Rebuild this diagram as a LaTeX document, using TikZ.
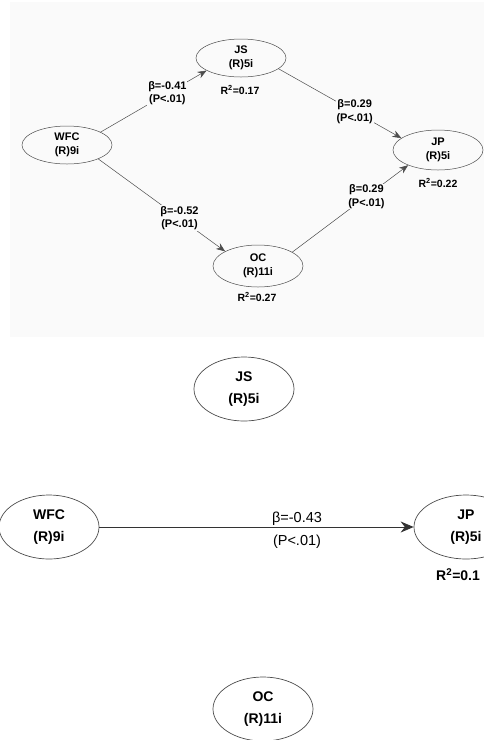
\documentclass[tikz,border=0pt]{standalone}
\usepackage{fontspec}
\setmainfont{Liberation Sans}
\usetikzlibrary{arrows.meta,shapes.geometric}

\begin{document}
\begin{tikzpicture}[
  x=1pt, y=-1pt,
  lv/.style={draw=black!70, ellipse, align=center, inner sep=0pt,
    minimum width=90pt, minimum height=38pt, line width=0.5pt,
    font=\bfseries\fontsize{11}{14.5}\selectfont},
  lvbig/.style={draw=black!70, ellipse, align=center, inner sep=0pt,
    minimum width=100pt, minimum height=64pt, line width=0.7pt,
    font=\bfseries\fontsize{14}{22}\selectfont},
  coef/.style={align=center, fill=black!2, inner sep=1pt,
    font=\bfseries\fontsize{11}{13.5}\selectfont},
  coefbig/.style={inner sep=0pt, font=\fontsize{14.5}{16}\selectfont},
  rsq/.style={inner sep=0pt, font=\bfseries\fontsize{10.5}{12}\selectfont},
  rsqbig/.style={inner sep=0pt, font=\bfseries\fontsize{14}{16}\selectfont},
  arrow/.style={-{Stealth[length=9pt, width=7pt]}, draw=black!70, line width=0.5pt},
  arrowbig/.style={-{Stealth[length=13pt, width=11pt]}, draw=black!80, line width=0.8pt}
]
\clip (0,0) rectangle (484,740);
\fill[black!2] (10,2) rectangle (484,337);

% mediation model
\node[lv] (wfc) at (67,145) {WFC\\(R)9i};
\node[lv] (js) at (241,58) {JS\\(R)5i};
\node[lv, minimum height=40pt] (jp) at (438,150) {JP\\(R)5i};
\node[lv, minimum height=42pt] (oc) at (258,266) {OC\\(R)11i};

\node[rsq] (rjs) at (240,90) {R\textsuperscript{2}=0.17};
\node[rsq] (rjp) at (438,183) {R\textsuperscript{2}=0.22};
\node[rsq] (roc) at (257,297) {R\textsuperscript{2}=0.27};

\draw[arrow] (wfc.21) -- (js.200) node[coef, pos=0.63] {β=-0.41\\(P<.01)};
\draw[arrow] (js.344) -- (jp.162) node[coef, pos=0.62] {β=0.29\\(P<.01)};
\draw[arrow] (wfc.336) -- (oc.156) node[coef, pos=0.64] {β=-0.52\\(P<.01)};
\draw[arrow] (oc.22) -- (jp.207) node[coef, pos=0.64] {β=0.29\\(P<.01)};

% direct effect
\node[lvbig] (jsb) at (244,389) {JS\\(R)5i};
\node[lvbig] (wfcb) at (49,527) {WFC\\(R)9i};
\node[lvbig, minimum width=104pt] (jpb) at (466,527) {JP\\(R)5i};
\node[lvbig] (ocb) at (263,709) {OC\\(R)11i};

\node[rsqbig, anchor=west] (rjpb) at (436,575) {R\textsuperscript{2}=0.1};

\draw[arrowbig] (wfcb) -- (jpb);
\node[coefbig] (cb) at (297,519) {β=-0.43};
\node[coefbig] (pb) at (297,542) {(P<.01)};
\end{tikzpicture}
\end{document}
